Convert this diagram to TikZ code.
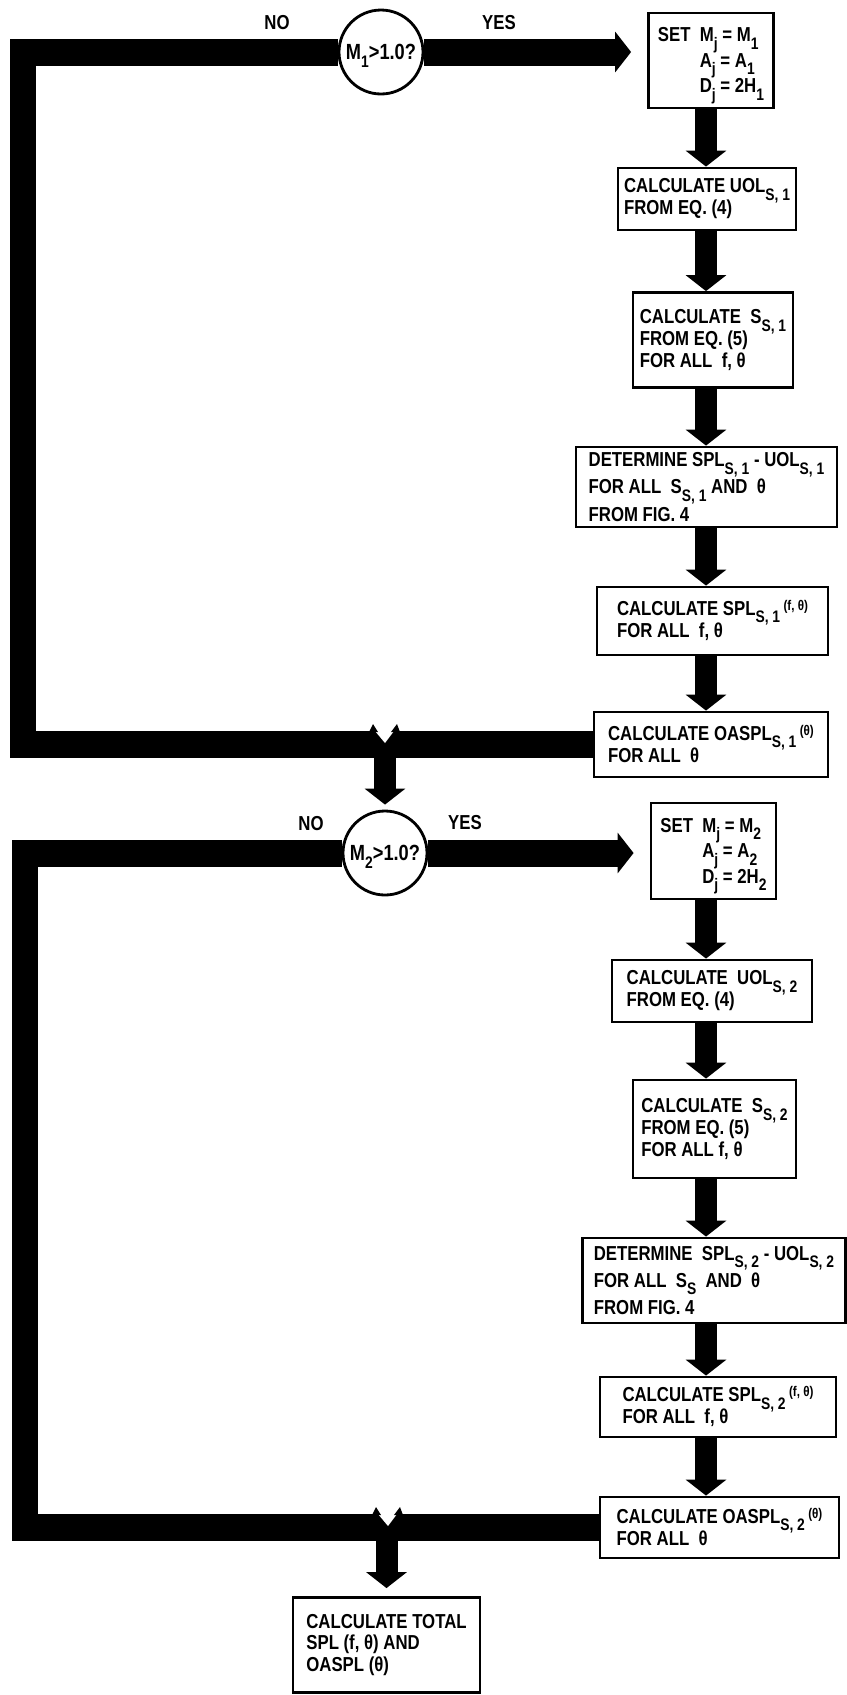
\documentclass[tikz,border=0pt]{standalone}
\usepackage{fontspec}
\newfontfamily\chartfont{Liberation Sans}[FakeStretch=0.83]
\usetikzlibrary{arrows.meta}
\newcommand{\lowtxt}[1]{\raisebox{-0.7ex}[0pt][0pt]{\fontsize{9.5}{9.5}\selectfont #1}}
\newcommand{\hightxt}[1]{\raisebox{0.5ex}[0pt][0pt]{\fontsize{8}{8}\selectfont #1}}

\begin{document}
\begin{tikzpicture}[
    x=0.02cm, y=-0.02cm,
    stepbox/.style 2 args={rectangle, draw, line width=1.6pt, minimum width=#1*0.02cm,
                  minimum height=#2*0.02cm, align=left, inner sep=0pt,
                  font=\chartfont\bfseries\fontsize{11.5}{12.5}\selectfont},
    decision/.style={circle, draw, line width=1.6pt, minimum size=84*0.02cm, inner sep=0pt,
                  font=\chartfont\bfseries\fontsize{12.5}{13}\selectfont},
    answer/.style={font=\chartfont\bfseries\fontsize{11.5}{13}\selectfont},
    band/.style={line width=0.54cm, line join=miter},
    bandarrow/.style={band, -{Triangle[width=0.8cm, length=0.32cm]}},
    flowarrow/.style={line width=0.44cm, -{Triangle[width=0.8cm, length=0.32cm]}},
]
    \useasboundingbox (0,0) rectangle (847,1695);

    % First stage
    \node[decision] (dec1) at (381,52) {M\lowtxt{1}>1.0?};
    \node[answer] (no1) at (277,23) {NO};
    \node[answer] (yes1) at (499,23) {YES};
    \node[stepbox={125}{95}] (set1) at (711,60.5) {SET\ \ M\lowtxt{j} = M\lowtxt{1}\\[2pt]
        \phantom{SET\ \ }A\lowtxt{j} = A\lowtxt{1}\\[2pt]
        \phantom{SET\ \ }D\lowtxt{j} = 2H\lowtxt{1}};
    \node[stepbox={178}{62}] (uol1) at (707,199) {CALCULATE UOL\lowtxt{S, 1}\\FROM EQ. (4)};
    \node[stepbox={160}{95}] (sss1) at (713,340) {CALCULATE \ S\lowtxt{S, 1}\\FROM EQ. (5)\\FOR ALL \ f, θ};
    \node[stepbox={261}{80}] (det1) at (706.5,487) {DETERMINE SPL\lowtxt{S, 1} - UOL\lowtxt{S, 1}\\[3pt]
        FOR ALL \ S\lowtxt{S, 1} AND \ θ\\[3pt]FROM FIG. 4};
    \node[stepbox={231}{68}] (spl1) at (712.5,621) {CALCULATE SPL\lowtxt{S, 1}\,\hightxt{(f, θ)}\\FOR ALL \ f, θ};
    \node[stepbox={234}{65}] (oaspl1) at (711,744.5) {CALCULATE OASPL\lowtxt{S, 1}\,\hightxt{(θ)}\\FOR ALL \ θ};

    % Second stage
    \node[decision] (dec2) at (385,853) {M\lowtxt{2}>1.0?};
    \node[answer] (no2) at (311,824) {NO};
    \node[answer] (yes2) at (465,823) {YES};
    \node[stepbox={125}{96}] (set2) at (713.5,851) {SET\ \ M\lowtxt{j} = M\lowtxt{2}\\[2pt]
        \phantom{SET\ \ }A\lowtxt{j} = A\lowtxt{2}\\[2pt]
        \phantom{SET\ \ }D\lowtxt{j} = 2H\lowtxt{2}};
    \node[stepbox={200}{62}] (uol2) at (712,991) {CALCULATE \ UOL\lowtxt{S, 2}\\FROM EQ. (4)};
    \node[stepbox={163}{98}] (sss2) at (714.5,1129) {CALCULATE \ S\lowtxt{S, 2}\\FROM EQ. (5)\\FOR ALL f, θ};
    \node[stepbox={263}{85}] (det2) at (714,1280.5) {DETERMINE \ SPL\lowtxt{S, 2} - UOL\lowtxt{S, 2}\\[3pt]
        FOR ALL \ S\lowtxt{S} \ AND \ θ\\[3pt]FROM FIG. 4};
    \node[stepbox={236}{60}] (spl2) at (718,1407) {CALCULATE SPL\lowtxt{S, 2}\,\hightxt{(f, θ)}\\FOR ALL \ f, θ};
    \node[stepbox={239}{61}] (oaspl2) at (719.5,1527.5) {CALCULATE OASPL\lowtxt{S, 2}\,\hightxt{(θ)}\\FOR ALL \ θ};
    \node[stepbox={187}{95}] (total) at (386.5,1645) {CALCULATE TOTAL\\SPL (f, θ) AND\\OASPL (θ)};

    \coordinate (col) at (706,0);
    \coordinate (loop1) at (23,52);
    \coordinate (loop2) at (25,853);

    % Steps of each stage
    \draw[flowarrow] (col |- set1.south) -- (col |- uol1.north);
    \draw[flowarrow] (col |- uol1.south) -- (col |- sss1.north);
    \draw[flowarrow] (col |- sss1.south) -- (col |- det1.north);
    \draw[flowarrow] (col |- det1.south) -- (col |- spl1.north);
    \draw[flowarrow] (col |- spl1.south) -- (col |- oaspl1.north);
    \draw[flowarrow] (col |- set2.south) -- (col |- uol2.north);
    \draw[flowarrow] (col |- uol2.south) -- (col |- sss2.north);
    \draw[flowarrow] (col |- sss2.south) -- (col |- det2.north);
    \draw[flowarrow] (col |- det2.south) -- (col |- spl2.north);
    \draw[flowarrow] (col |- spl2.south) -- (col |- oaspl2.north);

    % Loops and branches
    \draw[band] (dec1.west) -- (loop1) |- (oaspl1.west);
    \draw[bandarrow, shorten >=0.32cm] (dec1.east) -- (set1.west |- dec1.east);
    \draw[flowarrow, shorten >=0.1cm] (dec2.north |- oaspl1.west) -- (dec2.north);
    \draw[band] (dec2.west) -- (loop2) |- (oaspl2.west);
    \draw[bandarrow, shorten >=0.32cm] (dec2.east) -- (set2.west |- dec2.east);
    \draw[flowarrow, shorten >=0.16cm] (total.north |- oaspl2.west) -- (total.north);

    % Merge notches
    \fill[white] (375,731) -- (394,731) -- (385,743) -- cycle;
    \fill (369,732) -- (373,724) -- (378,732) -- cycle;
    \fill (391,732) -- (397,724) -- (400,732) -- cycle;
    \fill[white] (378,1514) -- (397,1514) -- (388,1526) -- cycle;
    \fill (372,1515) -- (376,1507) -- (381,1515) -- cycle;
    \fill (394,1515) -- (400,1507) -- (403,1515) -- cycle;
\end{tikzpicture}
\end{document}
